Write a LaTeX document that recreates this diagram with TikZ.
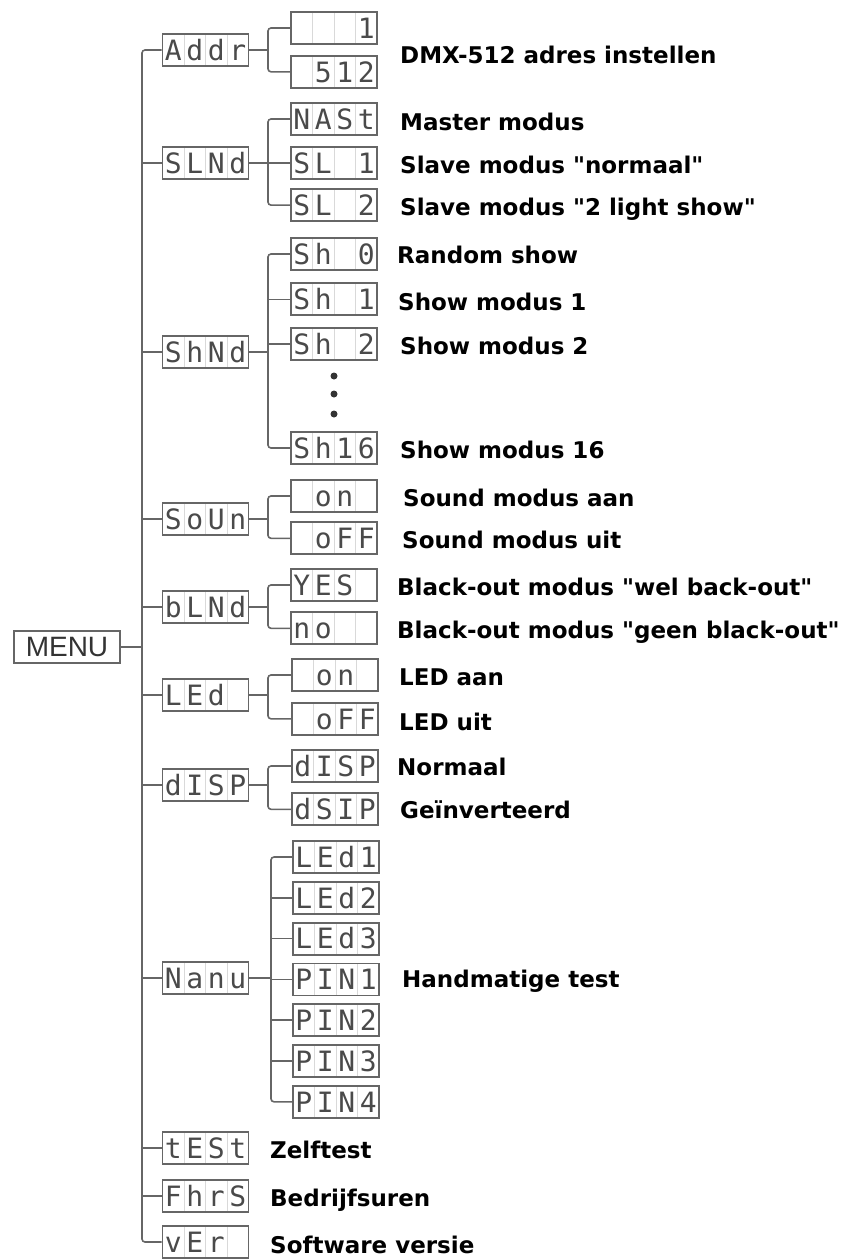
\documentclass[tikz,border=0pt]{standalone}
\usepackage{fontspec}
\setmainfont{DejaVu Sans}
\newfontfamily\lcdfont{DejaVu Sans Mono}
\newfontfamily\menufont{Liberation Sans}
\usepackage{tikz}
\usetikzlibrary{
	positioning,
	calc
}
\definecolor{wiregray}{HTML}{666666}
\definecolor{seggray}{HTML}{4A4A4A}

% four cells of the display
\newcommand{\cells}[4]{\makebox[21.5pt]{#1}\makebox[21.5pt]{#2}\makebox[21.5pt]{#3}\makebox[21.5pt]{#4}}
% straight quotes
\newcommand{\q}[1]{\textquotedbl#1\textquotedbl}

\begin{document}
\begin{tikzpicture}[
		x=1pt, y=-1pt,
		wire/.style={draw=wiregray, line width=1.6pt},
		lcd/.style={
			rectangle, draw=wiregray, line width=1.8pt,
			minimum width=86pt, minimum height=32pt, inner sep=0pt,
			font=\lcdfont\fontsize{28}{28}\selectfont, text=seggray,
			text height=20.4pt, text depth=0pt,
			path picture={
				\foreach \k in {1,2,3}
				\draw[gray!30, line width=1pt]
				($(path picture bounding box.south west)!\k/4!(path picture bounding box.south east)$) --
				($(path picture bounding box.north west)!\k/4!(path picture bounding box.north east)$);
			}
		},
		menubox/.style={
			rectangle, draw=wiregray, line width=1.8pt,
			minimum width=106pt, minimum height=32pt, inner sep=0pt,
			font=\menufont\fontsize{28}{28}\selectfont, text=black!80
		},
		desc/.style={anchor=base west, inner sep=0pt, font=\bfseries\fontsize{23}{23}\selectfont},
		dotmark/.style={circle, fill=black!80, inner sep=0pt, minimum size=7pt}
	]
	\useasboundingbox (0,0) rectangle (856,1259);
	
	\coordinate (trunk) at (142,0);
	\coordinate (fork)  at (268,0);
	\coordinate (forkM) at (271,0);
	
	% Menu
	\node[menubox] (menu) at (67,647) {MENU};
	
	% first level
	\node[lcd] (addr) at (205.5,50)   {\cells{A}{d}{d}{r}};
	\node[lcd] (slnd) at (205.5,163)  {\cells{S}{L}{N}{d}};
	\node[lcd] (shnd) at (205.5,352)  {\cells{S}{h}{N}{d}};
	\node[lcd] (soun) at (205.5,519)  {\cells{S}{o}{U}{n}};
	\node[lcd] (blnd) at (205.5,607)  {\cells{b}{L}{N}{d}};
	\node[lcd] (led)  at (205.5,695)  {\cells{L}{E}{d}{}};
	\node[lcd] (disp) at (205.5,785)  {\cells{d}{I}{S}{P}};
	\node[lcd] (manu) at (205.5,978)  {\cells{N}{a}{n}{u}};
	\node[lcd] (test) at (205.5,1148) {\cells{t}{E}{S}{t}};
	\node[lcd] (fhrs) at (205.5,1196) {\cells{F}{h}{r}{S}};
	\node[lcd] (ver)  at (205.5,1242) {\cells{v}{E}{r}{}};
	
	% address
	\node[lcd] (addrA) at (334,28) {\cells{}{}{}{1}};
	\node[lcd, below=10pt of addrA] (addrB) {\cells{}{5}{1}{2}};
	
	% slave / master
	\node[lcd] (mast) at (334,119) {\cells{N}{A}{S}{t}};
	\node[lcd, below=10pt of mast] (slA) {\cells{S}{L}{}{1}};
	\node[lcd, below=8.5pt of slA] (slB) {\cells{S}{L}{}{2}};
	
	% shows
	\node[lcd] (shA) at (334,254) {\cells{S}{h}{}{0}};
	\node[lcd, below=11.5pt of shA] (shB) {\cells{S}{h}{}{1}};
	\node[lcd, below=11pt of shB] (shC) {\cells{S}{h}{}{2}};
	\node[dotmark] (dotA) at (334,376) {};
	\node[dotmark] (dotB) at (334,394) {};
	\node[dotmark] (dotC) at (334,414) {};
	\node[lcd] (shP) at (334,448) {\cells{S}{h}{1}{6}};
	
	% sound
	\node[lcd] (sndOn) at (334,496) {\cells{}{o}{n}{}};
	\node[lcd, below=8.5pt of sndOn] (sndOff) {\cells{}{o}{F}{F}};
	
	% black-out
	\node[lcd] (yes) at (334,585) {\cells{Y}{E}{S}{}};
	\node[lcd, below=9.5pt of yes] (no) {\cells{n}{o}{}{}};
	
	% led
	\node[lcd] (ledOn) at (335,675) {\cells{}{o}{n}{}};
	\node[lcd, below=10pt of ledOn] (ledOff) {\cells{}{o}{F}{F}};
	
	% display
	\node[lcd] (dispA) at (335,766) {\cells{d}{I}{S}{P}};
	\node[lcd, below=9.5pt of dispA] (dispB) {\cells{d}{S}{I}{P}};
	
	% manual
	\node[lcd] (led1) at (336,857) {\cells{L}{E}{d}{1}};
	\node[lcd, below=7pt of led1] (led2) {\cells{L}{E}{d}{2}};
	\node[lcd, below=7pt of led2] (led3) {\cells{L}{E}{d}{3}};
	\node[lcd, below=7pt of led3] (pin1) {\cells{P}{I}{N}{1}};
	\node[lcd, below=7pt of pin1] (pin2) {\cells{P}{I}{N}{2}};
	\node[lcd, below=7pt of pin2] (pin3) {\cells{P}{I}{N}{3}};
	\node[lcd, below=7pt of pin3] (pin4) {\cells{P}{I}{N}{4}};
	
	% descriptions
	\node[desc] (tAddr)  at (400,63)   {DMX-512 adres instellen};
	\node[desc] (tMast)  at (400,130)  {Master modus};
	\node[desc] (tSlA)   at (400,173)  {Slave modus \q{normaal}};
	\node[desc] (tSlB)   at (400,215)  {Slave modus \q{2 light show}};
	\node[desc] (tShA)   at (397,263)  {Random show};
	\node[desc] (tShB)   at (398,310)  {Show modus 1};
	\node[desc] (tShC)   at (400,354)  {Show modus 2};
	\node[desc] (tShP)   at (400,458)  {Show modus 16};
	\node[desc] (tSndOn) at (403,506)  {Sound modus aan};
	\node[desc] (tSndOff) at (402,548) {Sound modus uit};
	\node[desc] (tYes)   at (397,595)  {Black-out modus \q{wel back-out}};
	\node[desc] (tNo)    at (397,638)  {Black-out modus \q{geen black-out}};
	\node[desc] (tLedOn) at (399,685)  {LED aan};
	\node[desc] (tLedOff) at (399,730) {LED uit};
	\node[desc] (tDispA) at (397,775)  {Normaal};
	\node[desc] (tDispB) at (400,818)  {Geïnverteerd};
	\node[desc] (tManu)  at (402,987)  {Handmatige test};
	\node[desc] (tTest)  at (270,1158) {Zelftest};
	\node[desc] (tFhrs)  at (270,1206) {Bedrijfsuren};
	\node[desc] (tVer)   at (270,1253) {Software versie};
	
	% trunk
	\draw[wire] (menu) -- (menu -| trunk);
	\draw[wire, rounded corners=3pt] (addr.west) -- (addr.west -| trunk) -- (ver.west -| trunk) -- (ver.west);
	\foreach \n in {slnd,shnd,soun,blnd,led,disp,manu,test,fhrs}
	\draw[wire] (\n.west) -- (\n.west -| trunk);
	
	% forks to second level
	\foreach \p/\a/\b in {addr/addrA/addrB, slnd/mast/slB, shnd/shA/shP, soun/sndOn/sndOff, blnd/yes/no, led/ledOn/ledOff, disp/dispA/dispB}{
		\draw[wire] (\p.east) -- (\p.east -| fork);
		\draw[wire, rounded corners=3pt] (\a.west) -- (\a.west -| fork) -- (\b.west -| fork) -- (\b.west);
	}
	\foreach \n in {slA,shB,shC}
	\draw[wire] (\n.west) -- (\n.west -| fork);
	
	\draw[wire] (manu.east) -- (manu.east -| forkM);
	\draw[wire, rounded corners=3pt] (led1.west) -- (led1.west -| forkM) -- (pin4.west -| forkM) -- (pin4.west);
	\foreach \n in {led2,led3,pin1,pin2,pin3}
	\draw[wire] (\n.west) -- (\n.west -| forkM);
\end{tikzpicture}
\end{document}
